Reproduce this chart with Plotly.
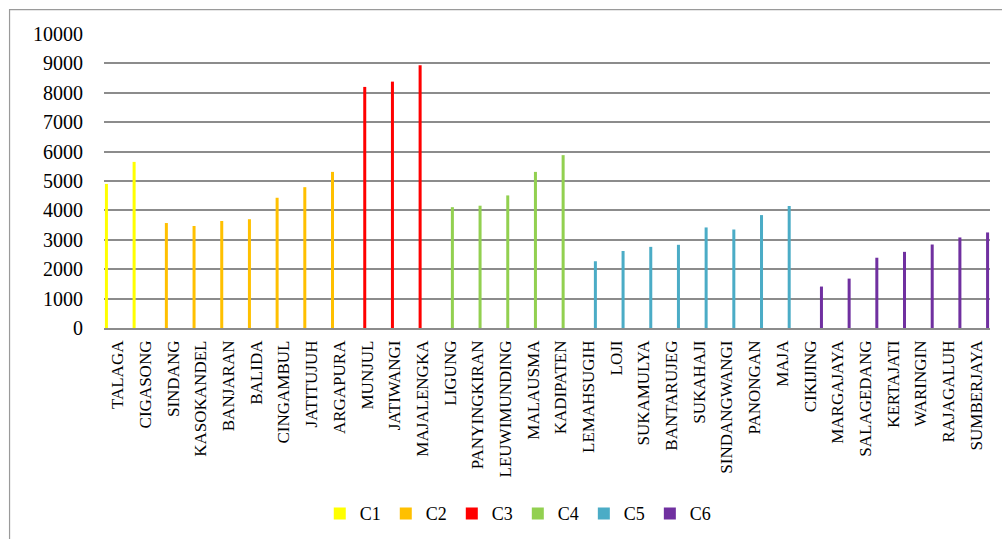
import plotly.graph_objects as go

# Villages grouped by cluster, with their values
c1_names = ["TALAGA", "CIGASONG"]
c1_vals = [4900, 5650]
c2_names = ["SINDANG", "KASOKANDEL", "BANJARAN", "BALIDA", "CINGAMBUL", "JATITUJUH", "ARGAPURA"]
c2_vals = [3570, 3470, 3640, 3700, 4430, 4790, 5310]
c3_names = ["MUNJUL", "JATIWANGI", "MAJALENGKA"]
c3_vals = [8200, 8380, 8940]
c4_names = ["LIGUNG", "PANYINGKIRAN", "LEUWIMUNDING", "MALAUSMA", "KADIPATEN"]
c4_vals = [4110, 4160, 4510, 5310, 5880]
c5_names = ["LEMAHSUGIH", "LOJI", "SUKAMULYA", "BANTARUJEG", "SUKAHAJI",
            "SINDANGWANGI", "PANONGAN", "MAJA"]
c5_vals = [2270, 2620, 2760, 2830, 3420, 3350, 3840, 4150]
c6_names = ["CIKIJING", "MARGAJAYA", "SALAGEDANG", "KERTAJATI", "WARINGIN",
            "RAJAGALUH", "SUMBERJAYA"]
c6_vals = [1410, 1680, 2390, 2590, 2840, 3080, 3250]

cluster_labels = ["C1", "C2", "C3", "C4", "C5", "C6"]
cluster_colors = ["#FFFF00", "#FFC000", "#FF0000", "#92D050", "#4BACC6", "#7030A0"]
cluster_names = [c1_names, c2_names, c3_names, c4_names, c5_names, c6_names]
cluster_vals = [c1_vals, c2_vals, c3_vals, c4_vals, c5_vals, c6_vals]

categories = [n for names in cluster_names for n in names]
y_ticks = list(range(0, 10001, 1000))

FONT = "Liberation Serif"

# Each category holds a six-slot cluster group; a series only fills its own slot
n_series = len(cluster_labels)
slot = 0.99 / n_series
bar_w = slot * 0.66

fig = go.Figure()
for i, (label, color, names, vals) in enumerate(
        zip(cluster_labels, cluster_colors, cluster_names, cluster_vals)):
    center = -0.495 + (i + 0.5) * slot
    fig.add_trace(go.Bar(
        x=names, y=vals, name=label,
        width=bar_w, offset=center - bar_w / 2,
        marker=dict(color=color, line=dict(width=0)),
    ))

# Geometry of the plotting area in pixels
W, H = 1002, 539
left, right = 103.5, 990.0
top, bottom = 34.3, 327.7
pw, ph = right - left, bottom - top

def px_x(p):
    return (p - left) / pw

def px_y(p):
    return (bottom - p) / ph

fig.update_layout(
    width=W, height=H,
    margin=dict(l=left, r=W - right, t=top, b=H - bottom, autoexpand=False),
    paper_bgcolor="white", plot_bgcolor="white",
    barmode="overlay",
    font=dict(family=FONT, size=17, color="#000000"),
    showlegend=True,
    legend=dict(
        orientation="h", x=px_x(518), xanchor="center",
        y=px_y(513), yanchor="middle",
        font=dict(family=FONT, size=18, color="#000000"),
        itemwidth=30, tracegroupgap=0,
        bgcolor="rgba(0,0,0,0)",
    ),
    xaxis=dict(
        type="category", categoryorder="array", categoryarray=categories,
        range=[-0.5, len(categories) - 0.5],
        tickangle=-90, tickfont=dict(family=FONT, size=17, color="#000000"),
        showgrid=False, showline=True, linecolor="#8c8c8c", linewidth=1.5,
        ticks="", ticklabelstandoff=4, zeroline=False,
    ),
    yaxis=dict(
        range=[0, 10000], tickvals=y_ticks, ticktext=[str(v) for v in y_ticks],
        tickfont=dict(family=FONT, size=20, color="#000000"),
        showgrid=True, gridcolor="#8c8c8c", gridwidth=1.5,
        zeroline=False, showline=False, ticks="", ticklabelstandoff=20,
    ),
    shapes=[
        dict(type="rect", xref="paper", yref="paper",
             x0=px_x(9), x1=px_x(1008), y0=px_y(545), y1=px_y(10),
             line=dict(color="#9a9a9a", width=1.2), fillcolor="rgba(0,0,0,0)",
             layer="below"),
    ],
)

fig.write_html("out.html")
